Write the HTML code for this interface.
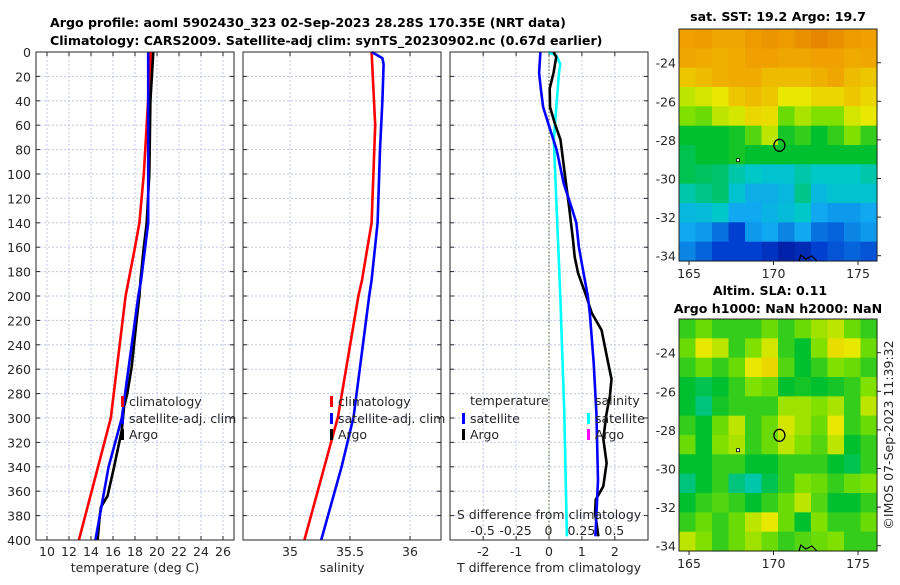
<!DOCTYPE html>
<html><head><meta charset="utf-8"><style>
html,body{margin:0;padding:0;background:#fff;}
svg text{font-family:"DejaVu Sans","Liberation Sans",sans-serif;fill:#262626;}
</style></head><body>
<svg id="chart" width="900" height="580" viewBox="0 0 900 580" xmlns="http://www.w3.org/2000/svg">
<text x="50" y="27" font-size="12.6" font-weight="bold" style="fill:#000">Argo profile: aoml 5902430_323 02-Sep-2023 28.28S 170.35E (NRT data)</text>
<text x="50" y="45" font-size="12.6" font-weight="bold" style="fill:#000">Climatology: CARS2009. Satellite-adj clim: synTS_20230902.nc (0.67d earlier)</text>
<text x="778" y="21" font-size="12.6" font-weight="bold" text-anchor="middle" style="fill:#000">sat. SST: 19.2 Argo: 19.7</text>
<text x="770" y="295" font-size="12.6" font-weight="bold" text-anchor="middle" style="fill:#000">Altim. SLA: 0.11</text>
<text x="778" y="313" font-size="12.6" font-weight="bold" text-anchor="middle" style="fill:#000">Argo h1000: NaN h2000: NaN</text>
<text transform="translate(893,435) rotate(-90)" font-size="12.5" text-anchor="middle">©IMOS 07-Sep-2023 11:39:32</text>
</svg>
<script>
// ---- data ----
const depthTicks = [0,20,40,60,80,100,120,140,160,180,200,220,240,260,280,300,320,340,360,380,400];
const tempTicks = [10,12,14,16,18,20,22,24,26];
const salTicks = [35,35.5,36];
const salTickLabels = ["35","35.5","36"];
const tdiffTicks = [-2,-1,0,1,2];
const sdiffTicks = [-0.5,-0.25,0,0.25,0.5];
const sdiffTickLabels = ["-0.5","-0.25","0","0.25","0.5"];

const climTDepth = [0,60,100,140,160,200,300,400];
const climTVal = [19.45,19.06,18.8,18.4,18.0,17.15,15.8,12.9];
const satTDepth = [0,140,187,200,300,340,400];
const satTVal = [19.2,19.2,18.55,18.3,16.8,15.6,14.4];
const argoTDepth = [0,40,100,140,160,187,200,220,258,280,291,310,340,364,373,380,400];
const argoTVal = [19.66,19.4,19.3,19.06,18.8,18.5,18.4,18.15,17.7,17.3,17.0,16.8,16.1,15.5,14.9,14.8,14.6];

const climSDepth = [0,60,140,187,200,299,400];
const climSVal = [35.68,35.71,35.68,35.6,35.57,35.4,35.12];
const satSDepth = [0,5,10,40,80,140,187,200,299,340,400];
const satSVal = [35.68,35.77,35.78,35.77,35.75,35.73,35.68,35.66,35.53,35.43,35.26];

const satDTDepth = [0,17,30,45,58,80,108,127,140,160,181,200,214,255,296,351,397];
const satDTVal = [-0.26,-0.3,-0.25,-0.18,-0.03,0.23,0.45,0.68,0.83,0.91,1.05,1.18,1.24,1.36,1.44,1.49,1.41];
const argoDTDepth = [0,4,17,30,45,58,72,100,127,154,168,181,200,214,228,255,268,282,296,317,337,356,367,378,397];
const argoDTVal = [0.14,0.22,0.14,0.02,0.03,0.17,0.35,0.48,0.61,0.73,0.78,0.88,1.13,1.3,1.6,1.8,1.9,1.85,1.75,1.65,1.75,1.65,1.42,1.4,1.5];
const satDSDepth = [0,3,10,17,58,72,200,296,397];
const satDSVal = [0,0.06,0.09,0.08,0.05,0.04,0.09,0.12,0.14];

const latTicks = [-24,-26,-28,-30,-32,-34];
const lonTicks = [165,170,175];
const argoLon = 170.35, argoLat = -28.28;
const sstGrid = [
[.85,.86,.84,.84,.86,.87,.86,.88,.9,.88,.86,.85],
[.84,.83,.82,.83,.85,.85,.84,.84,.85,.85,.83,.84],
[.78,.8,.82,.83,.83,.8,.8,.8,.82,.84,.8,.78],
[.68,.7,.72,.78,.8,.78,.72,.72,.75,.75,.78,.75],
[.62,.6,.68,.7,.75,.74,.6,.66,.62,.62,.7,.72],
[.5,.5,.5,.52,.58,.68,.52,.55,.5,.55,.62,.55],
[.48,.5,.5,.52,.5,.5,.5,.5,.5,.5,.5,.5],
[.48,.47,.46,.42,.4,.38,.38,.42,.4,.4,.4,.42],
[.42,.44,.46,.38,.32,.32,.35,.44,.35,.38,.38,.38],
[.35,.36,.4,.3,.3,.33,.36,.4,.3,.28,.28,.3],
[.3,.28,.22,.15,.28,.3,.25,.3,.22,.2,.25,.28],
[.25,.2,.15,.15,.15,.12,.08,.1,.15,.18,.2,.18]];
const slaGrid = [
[.55,.6,.55,.55,.55,.6,.55,.6,.65,.68,.6,.55],
[.6,.72,.68,.55,.62,.7,.55,.5,.62,.74,.72,.6],
[.55,.6,.55,.6,.72,.75,.58,.5,.55,.62,.6,.55],
[.5,.48,.5,.55,.62,.6,.5,.52,.5,.52,.55,.62],
[.5,.45,.52,.55,.55,.55,.65,.65,.62,.66,.55,.68],
[.55,.5,.6,.68,.55,.6,.7,.65,.6,.72,.55,.6],
[.6,.5,.62,.66,.55,.6,.68,.62,.58,.68,.5,.55],
[.5,.5,.55,.55,.5,.5,.55,.55,.55,.5,.48,.55],
[.45,.5,.55,.45,.42,.48,.55,.62,.6,.55,.6,.62],
[.5,.55,.58,.55,.5,.55,.6,.68,.58,.5,.5,.55],
[.55,.6,.55,.6,.68,.72,.6,.5,.62,.55,.55,.6],
[.68,.62,.55,.6,.65,.6,.55,.58,.6,.62,.55,.55]];

// ---- helpers ----
const svg = document.getElementById('chart');
const NS = 'http://www.w3.org/2000/svg';
function mk(tag, attrs, parent){const e=document.createElementNS(NS,tag);for(const k in attrs)e.setAttribute(k,attrs[k]);(parent||svg).appendChild(e);return e;}
const PT=52, PB=540;
const yD = d => PT + d*(PB-PT)/400;
const panels = [
 {x0:36,x1:234,vmin:9,vmax:27},
 {x0:243,x1:441,vmin:34.6083,vmax:36.2583},
 {x0:450,x1:648,vmin:-3.0091,vmax:3.0091}
];
const xP = (p,v) => p.x0 + (v-p.vmin)*(p.x1-p.x0)/(p.vmax-p.vmin);
const sScaleMax = 0.752;
const xS = v => 548.5 + v*(99)/sScaleMax;

function drawPanel(p, xticks, labels, name){
  const g = mk('g',{});
  
  
  depthTicks.forEach(d=>{
    if(d>0&&d<400){const l=mk('line',{x1:p.x0,x2:p.x1,y1:yD(d),y2:yD(d),stroke:'#c2c8e2','stroke-width':1,'stroke-dasharray':'2,2'},g);
    
    }
    mk('line',{x1:p.x0,x2:p.x0+4,y1:yD(d),y2:yD(d),stroke:'#262626'},g);
    mk('line',{x1:p.x1-4,x2:p.x1,y1:yD(d),y2:yD(d),stroke:'#262626'},g);
  });
  xticks.forEach((t,i)=>{
    const x=xP(p,t);
    const l=mk('line',{x1:x,x2:x,y1:PT,y2:PB,stroke:'#c2c8e2','stroke-width':1,'stroke-dasharray':'2,2'},g);
    
    
    mk('line',{x1:x,x2:x,y1:PB-4,y2:PB,stroke:'#262626'},g);
    mk('line',{x1:x,x2:x,y1:PT,y2:PT+4,stroke:'#262626'},g);
    const tx=mk('text',{x:x,y:PB+16,'font-size':12.5,'text-anchor':'middle'},g);
    
    
    tx.textContent=labels[i];
  });
  return g;
}
function line(p, depths, vals, color, name, xf){
  const pts = depths.map((d,i)=> (xf?xf(vals[i]):xP(p,vals[i])).toFixed(1)+','+yD(d).toFixed(1)).join(' ');
  const l = mk('polyline',{points:pts,fill:'none',stroke:color,'stroke-width':2.6,'stroke-linejoin':'round'});
  
  
}
function frame(p,name){
  const r=mk('rect',{x:p.x0,y:PT,width:p.x1-p.x0,height:PB-PT,fill:'none',stroke:'#262626','stroke-width':1});
  
  
}
function txt(x,y,s,size,anchor,name){
  const t=mk('text',{x:x,y:y,'font-size':size,'text-anchor':anchor||'start'});
  
  
  t.textContent=s;return t;
}
function marker(x,y,color,name){
  const r=mk('rect',{x:x,y:y-11,width:3,height:11,fill:color});
  
  
}

// panel 1
drawPanel(panels[0], tempTicks, tempTicks.map(String), 'temperature-panel');
depthTicks.forEach(d=>{
  const t=mk('text',{x:31,y:yD(d)+5,'font-size':12.5,'text-anchor':'end'});
  
  
  t.textContent=String(d);
});
line(panels[0], climTDepth, climTVal, '#ff0000', 'temp-climatology-line');
line(panels[0], argoTDepth, argoTVal, '#000000', 'temp-argo-line');
line(panels[0], satTDepth, satTVal, '#0000ff', 'temp-satellite-line');
frame(panels[0],'temperature-axes-frame');
txt(135,572,'temperature (deg C)',12.5,'middle','temperature-x-axis-title');
marker(121,407,'#ff0000','legend-marker-climatology');
txt(129,406,'climatology',12.5,'start','legend-climatology');
marker(121,424,'#0000ff','legend-marker-satellite');
txt(129,423,'satellite-adj. clim',12.5,'start','legend-satellite-adj');
marker(121,440,'#000000','legend-marker-argo');
txt(129,439,'Argo',12.5,'start','legend-argo');

// panel 2
drawPanel(panels[1], salTicks, salTickLabels, 'salinity-panel');
line(panels[1], climSDepth, climSVal, '#ff0000', 'sal-climatology-line');
line(panels[1], satSDepth, satSVal, '#0000ff', 'sal-satellite-line');
frame(panels[1],'salinity-axes-frame');
txt(342,572,'salinity',12.5,'middle','salinity-x-axis-title');
marker(330,407,'#ff0000','legend2-marker-climatology');
txt(338,406,'climatology',12.5,'start','legend2-climatology');
marker(330,424,'#0000ff','legend2-marker-satellite');
txt(338,423,'satellite-adj. clim',12.5,'start','legend2-satellite-adj');
marker(330,440,'#000000','legend2-marker-argo');
txt(338,439,'Argo',12.5,'start','legend2-argo');

// panel 3
drawPanel(panels[2], tdiffTicks, tdiffTicks.map(String), 'difference-panel');
const zl=mk('line',{x1:xP(panels[2],0),x2:xP(panels[2],0),y1:PT,y2:PB,stroke:'#4a5a2a','stroke-width':1,'stroke-dasharray':'1.5,2'});


line(panels[2], satDSDepth, satDSVal, '#00ffff', 'sdiff-satellite-line', xS);
line(panels[2], argoDTDepth, argoDTVal, '#000000', 'tdiff-argo-line');
line(panels[2], satDTDepth, satDTVal, '#0000ff', 'tdiff-satellite-line');
frame(panels[2],'difference-axes-frame');
txt(549,572,'T difference from climatology',12.5,'middle','tdiff-x-axis-title');
txt(549,519,'S difference from climatology',12.5,'middle','sdiff-axis-title');
sdiffTicks.forEach((v,i)=>{txt(xS(v),535,sdiffTickLabels[i],12.5,'middle','sdiff-tick-label');});
txt(470,405,'temperature',12.5,'start','legend3-temperature-header');
marker(462,424,'#0000ff','legend3-marker-temp-satellite');
txt(470,423,'satellite',12.5,'start','legend3-temp-satellite');
marker(462,440,'#000000','legend3-marker-temp-argo');
txt(470,439,'Argo',12.5,'start','legend3-temp-argo');
txt(595,405,'salinity',12.5,'start','legend3-salinity-header');
marker(587,424,'#00ffff','legend3-marker-sal-satellite');
txt(595,423,'satellite',12.5,'start','legend3-sal-satellite');
marker(587,440,'#ff00ff','legend3-marker-sal-argo');
txt(595,439,'Argo',12.5,'start','legend3-sal-argo');

// ---- maps ----
const cmapStops=[[0,[0,0,128]],[0.15,[0,64,208]],[0.3,[16,168,240]],[0.4,[0,200,200]],[0.5,[0,192,48]],[0.62,[128,224,0]],[0.72,[232,232,0]],[0.85,[240,160,0]],[1,[208,80,0]]];
function cmap(v){
  for(let i=1;i<cmapStops.length;i++){
    if(v<=cmapStops[i][0]){const a=cmapStops[i-1],b=cmapStops[i];const t=(v-a[0])/(b[0]-a[0]);
      return 'rgb('+a[1].map((c,k)=>Math.round(c+(b[1][k]-c)*t)).join(',')+')';}
  }
  return 'rgb(208,80,0)';
}
const MX0=679,MX1=877;
const lonX = lon => 689 + (lon-165)*16.9;
function drawMap(grid, top, name){
  const bottom = top+232;
  const latY = lat => top + 33.7 + (-24-lat)*19.3;
  const g=mk('g',{});
  
  
  const nr=grid.length, nc=grid[0].length;
  const cw=(MX1-MX0)/nc, ch=(bottom-top)/nr;
  grid.forEach((row,r)=>row.forEach((v,c)=>{
    const cell=mk('rect',{x:(MX0+c*cw).toFixed(2),y:(top+r*ch).toFixed(2),width:(cw+0.6).toFixed(2),height:(ch+0.6).toFixed(2),fill:cmap(v)},g);
    
    
  }));
  const fr=mk('rect',{x:MX0,y:top,width:MX1-MX0,height:bottom-top,fill:'none',stroke:'#262626'},g);
  
  
  latTicks.forEach(lat=>{
    const y=latY(lat);
    mk('line',{x1:MX1,x2:MX1+4,y1:y,y2:y,stroke:'#262626'},g);
    const t=mk('text',{x:676,y:y+5,'font-size':12.5,'text-anchor':'end'},g);
    
    
    t.textContent=String(lat);
  });
  lonTicks.forEach(lon=>{
    const x=lonX(lon);
    mk('line',{x1:x,x2:x,y1:bottom,y2:bottom+4,stroke:'#262626'},g);
    const t=mk('text',{x:x,y:bottom+17,'font-size':12.5,'text-anchor':'middle'},g);
    
    
    t.textContent=String(lon);
  });
  const c=mk('ellipse',{cx:lonX(argoLon),cy:latY(argoLat),rx:5.5,ry:6,fill:'none',stroke:'#000','stroke-width':1.3},g);
  
  
  const isl=mk('rect',{x:lonX(167.9)-1.5,y:latY(-29.05)-1.5,width:3,height:3,fill:'#fff',stroke:'#000','stroke-width':0.8},g);
  
  
  const coast=mk('path',{d:'M'+lonX(171.5)+','+bottom+' l2,-6 l5,4 l6,-3 l5,5',fill:'none',stroke:'#000','stroke-width':1.2},g);
  
  
}
drawMap(sstGrid, 29, 'sst-map');
drawMap(slaGrid, 319, 'sla-map');
</script>
</body></html>
